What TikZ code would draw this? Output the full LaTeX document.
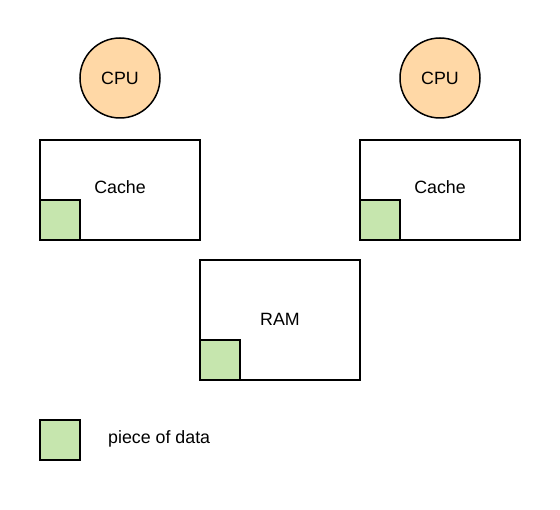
\documentclass[tikz,border=0pt]{standalone}
\usepackage{fontspec}
\setmainfont{Liberation Sans}
\definecolor{cpufill}{HTML}{FFD8A6}
\definecolor{datafill}{HTML}{C6E6AE}
\begin{document}
\begin{tikzpicture}[x=1pt,y=-1pt,
  every node/.style={font=\fontsize{17.8}{21}\selectfont},
  cpu/.style={circle,draw=black,line width=1.5pt,fill=cpufill,minimum size=80pt,inner sep=0pt},
  box/.style={draw=black,line width=1.5pt,fill=white},
  datasq/.style={draw=black,line width=1.5pt,fill=datafill}]
\useasboundingbox (0,0) rectangle (560,510);
\node[cpu] (cpu1) at (120,78) {CPU};
\node[cpu] (cpu2) at (440,78) {CPU};
\draw[box] (40,140) rectangle (200,240);
\draw[box] (360,140) rectangle (520,240);
\draw[box] (200,260) rectangle (360,380);
\node (cache1) at (120,187) {Cache};
\node (cache2) at (440,187) {Cache};
\node (ram) at (280,319) {RAM};
\draw[datasq] (40,200) rectangle (80,240);
\draw[datasq] (360,200) rectangle (400,240);
\draw[datasq] (200,340) rectangle (240,380);
\draw[datasq] (40,420) rectangle (80,460);
\node[anchor=west,inner sep=0pt] (legend) at (108,439) {piece of data};
\end{tikzpicture}
\end{document}
